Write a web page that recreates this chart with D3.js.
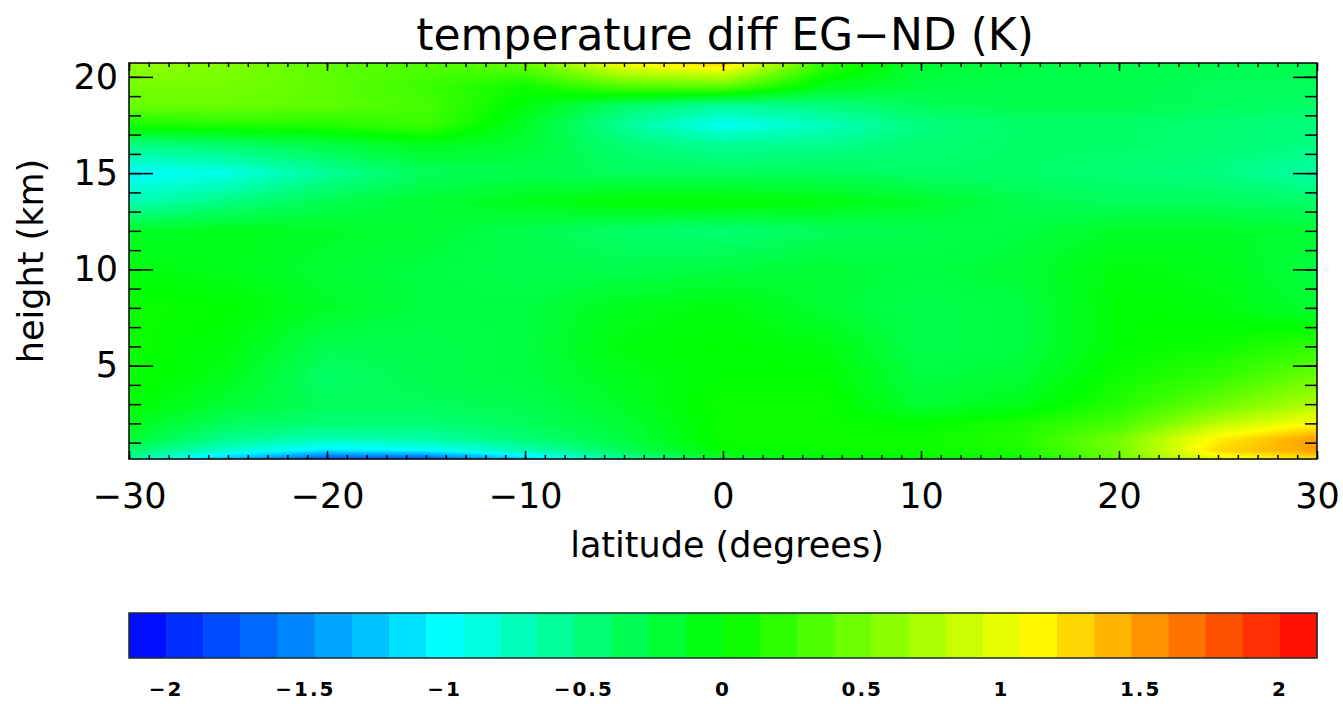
<!DOCTYPE html>
<html>
<head>
<meta charset="utf-8">
<script src="https://cdn.jsdelivr.net/npm/d3@7"></script>
<style>
  body { margin: 0; background: #fff; }
  text { font-family: "DejaVu Sans", sans-serif; fill: #000; }
</style>
</head>
<body>
<div id="chart"></div>
<script>
// latitude columns (degrees) and height rows (km) of the difference field
var lats = [-30, -25, -20, -15, -10, -5, 0, 5, 10, 15, 20, 25, 30];
var heights = [0.15, 0.6, 1.2, 2, 3, 4.5, 6, 8, 10, 12, 13.5, 15, 16.5, 17.5, 18.5, 19.5, 20.72];

// temperature diff EG-ND (K), one row per height, bottom to top
var diff = [
  [-0.6, -1.3, -1.8, -1.8, -1.2, -0.6, -0.2, -0.1, 0.0, 0.05, 0.45, 1.0, 1.2],
  [-0.4, -0.8, -1.1, -1.0, -0.7, -0.35, 0.0, 0.05, 0.05, 0.1, 0.5, 1.25, 1.5],
  [-0.2, -0.55, -0.7, -0.65, -0.45, -0.25, 0.05, 0.05, 0.05, 0.15, 0.5, 1.15, 1.5],
  [-0.1, -0.35, -0.45, -0.45, -0.35, -0.2, 0.05, 0.05, 0.0, 0.1, 0.3, 0.8, 1.1],
  [0.0, -0.2, -0.35, -0.35, -0.3, -0.15, 0.05, 0.05, -0.2, -0.1, 0.15, 0.45, 0.75],
  [0.05, -0.1, -0.4, -0.3, -0.25, -0.1, 0.0, 0.0, -0.25, -0.2, 0.05, 0.2, 0.45],
  [0.05, -0.05, -0.3, -0.3, -0.25, -0.05, 0.0, -0.05, -0.3, -0.25, 0.0, 0.05, 0.2],
  [0.05, 0.0, -0.15, -0.25, -0.25, -0.1, -0.05, -0.2, -0.3, -0.25, 0.0, -0.05, -0.2],
  [-0.05, -0.1, -0.2, -0.25, -0.3, -0.3, -0.25, -0.2, -0.25, -0.2, -0.05, -0.1, -0.25],
  [-0.15, -0.1, -0.15, -0.2, -0.3, -0.4, -0.45, -0.35, -0.3, -0.25, -0.15, -0.15, -0.2],
  [-0.7, -0.5, -0.3, -0.2, -0.1, 0.0, 0.0, -0.05, -0.15, -0.3, -0.35, -0.35, -0.4],
  [-1.0, -0.9, -0.6, -0.35, -0.3, -0.35, -0.35, -0.35, -0.4, -0.4, -0.45, -0.5, -0.65],
  [-0.5, -0.4, -0.25, -0.1, -0.2, -0.45, -0.6, -0.55, -0.45, -0.4, -0.4, -0.45, -0.5],
  [0.1, 0.15, 0.15, 0.25, -0.15, -0.6, -0.95, -0.75, -0.5, -0.4, -0.4, -0.45, -0.5],
  [0.45, 0.45, 0.4, 0.3, -0.05, -0.4, -0.6, -0.5, -0.35, -0.3, -0.3, -0.35, -0.4],
  [0.5, 0.5, 0.4, 0.25, 0.05, 0.35, 0.4, -0.1, -0.25, -0.3, -0.3, -0.35, -0.35],
  [0.65, 0.55, 0.4, 0.35, 0.45, 1.1, 1.3, 0.25, -0.2, -0.25, -0.3, -0.3, -0.3]
];

var xTicks = [-30, -20, -10, 0, 10, 20, 30];
var yTicks = [5, 10, 15, 20];
var barTicks = [-2, -1.5, -1, -0.5, 0, 0.5, 1, 1.5, 2];
var barLabels = ["\u22122", "\u22121.5", "\u22121", "\u22120.5", "0", "0.5", "1", "1.5", "2"];

// colour table: blue - cyan - green - yellow - red
var cmapStops = [-32 / 15, -1, 0, 1.1, 32 / 15];
var cmapColors = ["#0000ff", "#00ffff", "#00ff00", "#ffff00", "#ff0000"];
var nLevels = 32;

var W = 1343, H = 704;
var plot = {left: 129, right: 1317, top: 63, bottom: 459};
var bar = {top: 613, bottom: 658};

var svg = d3.select("#chart").append("svg")
  .attr("width", W)
  .attr("height", H);

var x = d3.scaleLinear().domain([-30, 30]).range([plot.left, plot.right]);
var y = d3.scaleLinear().domain([0.15, 20.72]).range([plot.bottom, plot.top]);
var color = d3.scaleLinear().domain(cmapStops).range(cmapColors).clamp(true);

// ---- shaded field, drawn pixel by pixel on a canvas ----
var pw = plot.right - plot.left, ph = plot.bottom - plot.top;
var canvas = document.createElement("canvas");
canvas.width = pw;
canvas.height = ph;
var ctx = canvas.getContext("2d");
var img = ctx.createImageData(pw, ph);

var lo = cmapStops[0], hi = cmapStops[cmapStops.length - 1];
var lut = d3.range(1001).map(function(i) { return d3.rgb(color(lo + i / 1000 * (hi - lo))); });

function locate(arr, v) {
  var i = d3.bisectRight(arr, v) - 1;
  i = Math.max(0, Math.min(arr.length - 2, i));
  var t = (v - arr[i]) / (arr[i + 1] - arr[i]);
  return [i, Math.max(0, Math.min(1, t))];
}

var cols = d3.range(pw).map(function(px) { return locate(lats, x.invert(plot.left + px + 0.5)); });
for (var py = 0; py < ph; py++) {
  var r = locate(heights, y.invert(plot.top + py + 0.5));
  var r0 = diff[r[0]], r1 = diff[r[0] + 1], s = r[1];
  for (var px = 0; px < pw; px++) {
    var c = cols[px], i = c[0], t = c[1];
    var a = r0[i] * (1 - t) + r0[i + 1] * t;
    var b = r1[i] * (1 - t) + r1[i + 1] * t;
    var v = a * (1 - s) + b * s;
    var k = Math.round((v - lo) / (hi - lo) * 1000);
    var col = lut[Math.max(0, Math.min(1000, k))];
    var o = (py * pw + px) * 4;
    img.data[o] = col.r; img.data[o + 1] = col.g; img.data[o + 2] = col.b; img.data[o + 3] = 255;
  }
}
ctx.putImageData(img, 0, 0);

svg.append("image")
  .attr("x", plot.left)
  .attr("y", plot.top)
  .attr("width", pw)
  .attr("height", ph)
  .attr("preserveAspectRatio", "none")
  .attr("href", canvas.toDataURL());

// ---- axes, IDL style: ticks inside on all four sides ----
function styleAxis(g) {
  g.select(".domain").remove();
  g.selectAll("line").attr("stroke", "#000").attr("stroke-width", 1.5);
}

svg.append("g")
  .attr("transform", "translate(0," + plot.bottom + ")")
  .call(d3.axisBottom(x).tickValues(d3.range(-30, 31, 1)).tickSize(-4).tickFormat(""))
  .call(styleAxis);
svg.append("g")
  .attr("transform", "translate(0," + plot.bottom + ")")
  .call(d3.axisBottom(x).tickValues(xTicks).tickSize(-8).tickPadding(24).tickFormat(d3.format("d")))
  .call(styleAxis)
  .selectAll("text").style("font-size", "35px");

svg.append("g")
  .attr("transform", "translate(0," + plot.top + ")")
  .call(d3.axisTop(x).tickValues(d3.range(-30, 31, 1)).tickSize(-4).tickFormat(""))
  .call(styleAxis);
svg.append("g")
  .attr("transform", "translate(0," + plot.top + ")")
  .call(d3.axisTop(x).tickValues(xTicks).tickSize(-8).tickFormat(""))
  .call(styleAxis);

svg.append("g")
  .attr("transform", "translate(" + plot.left + ",0)")
  .call(d3.axisLeft(y).tickValues(d3.range(1, 21, 1)).tickSize(-12).tickFormat(""))
  .call(styleAxis);
svg.append("g")
  .attr("transform", "translate(" + plot.left + ",0)")
  .call(d3.axisLeft(y).tickValues(yTicks).tickSize(-24).tickPadding(11).tickFormat(d3.format("d")))
  .call(styleAxis)
  .selectAll("text").style("font-size", "35px");

svg.append("g")
  .attr("transform", "translate(" + plot.right + ",0)")
  .call(d3.axisRight(y).tickValues(d3.range(1, 21, 1)).tickSize(-12).tickFormat(""))
  .call(styleAxis);
svg.append("g")
  .attr("transform", "translate(" + plot.right + ",0)")
  .call(d3.axisRight(y).tickValues(yTicks).tickSize(-24).tickFormat(""))
  .call(styleAxis);

svg.append("rect")
  .attr("x", plot.left)
  .attr("y", plot.top)
  .attr("width", pw)
  .attr("height", ph)
  .attr("fill", "none")
  .attr("stroke", "#000")
  .attr("stroke-width", 1.5);

// ---- titles ----
svg.append("text")
  .attr("x", 725)
  .attr("y", 50)
  .attr("text-anchor", "middle")
  .style("font-size", "44px")
  .text("temperature diff EG\u2212ND (K)");

svg.append("text")
  .attr("x", 727)
  .attr("y", 557)
  .attr("text-anchor", "middle")
  .style("font-size", "35px")
  .text("latitude (degrees)");

svg.append("text")
  .attr("transform", "translate(43," + 261 + ") rotate(-90)")
  .attr("text-anchor", "middle")
  .style("font-size", "35px")
  .text("height (km)");

// ---- colour bar ----
var xb = d3.scaleLinear().domain([lo, hi]).range([plot.left, plot.right]);
var step = (hi - lo) / nLevels;
var levels = d3.range(nLevels).map(function(i) { return lo + i * step; });

svg.append("g")
  .selectAll("rect")
  .data(levels)
  .enter()
  .append("rect")
  .attr("x", function(d) { return xb(d); })
  .attr("y", bar.top)
  .attr("width", function(d) { return xb(d + step) - xb(d) + 0.5; })
  .attr("height", bar.bottom - bar.top)
  .attr("fill", function(d) { return color(d + step / 2); });

svg.append("rect")
  .attr("x", plot.left)
  .attr("y", bar.top)
  .attr("width", pw)
  .attr("height", bar.bottom - bar.top)
  .attr("fill", "none")
  .attr("stroke", "#1a2a2a")
  .attr("stroke-width", 1.5);

svg.append("g")
  .selectAll("text")
  .data(barTicks)
  .enter()
  .append("text")
  .attr("x", function(d) { return xb(d); })
  .attr("y", 696)
  .attr("text-anchor", "middle")
  .style("font-size", "20px")
  .style("font-weight", "bold")
  .style("letter-spacing", "2px")
  .text(function(d, i) { return barLabels[i]; });
</script>
</body>
</html>
